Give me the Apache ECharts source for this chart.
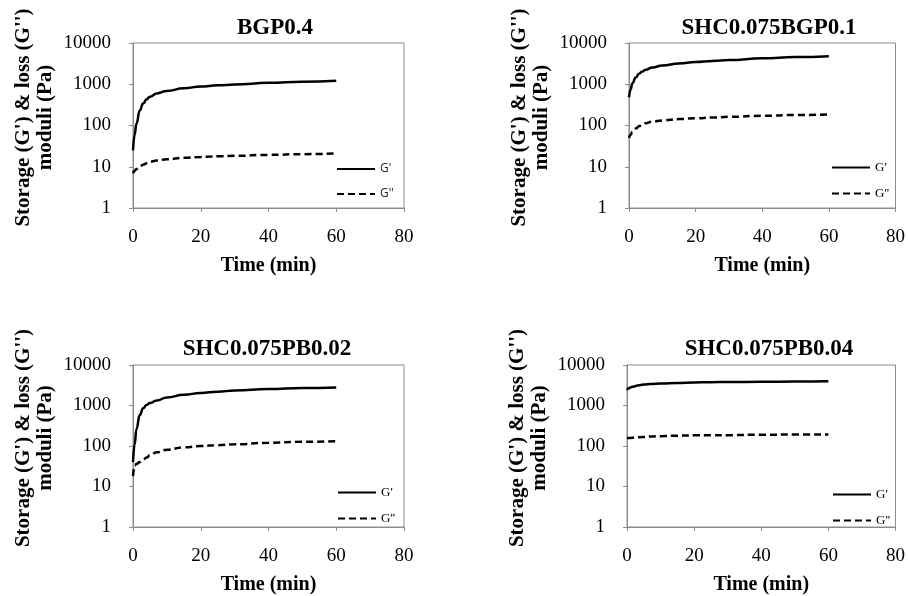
<!DOCTYPE html>
<html>
<head>
<meta charset="utf-8">
<script src="https://cdn.jsdelivr.net/npm/echarts@6/dist/echarts.min.js"></script>
<style>
  html, body { margin: 0; padding: 0; background: #fff; }
  #chart { width: 908px; height: 596px; }
</style>
</head>
<body>
<div id="chart"></div>
<script>
// time points (min), shared by all four tests
const times = [0, 0.5, 1, 2, 3, 4, 5, 7, 10, 15, 20, 25, 30, 40, 50, 60];

// BGP0.4
const bgpStorage = [25, 60, 110, 230, 340, 430, 500, 600, 690, 800, 880, 940, 990, 1080, 1150, 1210];
const bgpLoss = [6.9, 8, 8.8, 10, 11.2, 12.2, 13.2, 14.2, 15.2, 16.5, 17.3, 17.9, 18.4, 19.4, 20.2, 21];

// SHC0.075BGP0.1
const shcBgpStorage = [480, 750, 1050, 1450, 1800, 2050, 2250, 2550, 2850, 3200, 3450, 3650, 3850, 4250, 4550, 4800];
const shcBgpLoss = [50, 60, 70, 84, 96, 106, 113, 124, 133, 143, 150, 156, 162, 172, 180, 185];

// SHC0.075PB0.02
const pb02Storage = [40, 110, 260, 580, 860, 1030, 1150, 1330, 1580, 1850, 2030, 2200, 2330, 2550, 2700, 2800];
const pb02Loss = [18, 33, 36, 40, 46, 52, 59, 70, 81, 93, 100, 105, 110, 120, 127, 131];

// SHC0.075PB0.04
const pb04Storage = [2400, 2650, 2800, 2950, 3100, 3200, 3280, 3380, 3480, 3600, 3700, 3760, 3800, 3850, 3920, 3970];
const pb04Loss = [155, 157, 158, 160, 163, 165, 167, 171, 175, 180, 183, 184, 185, 190, 192, 192];

const titles = ['BGP0.4', 'SHC0.075BGP0.1', 'SHC0.075PB0.02', 'SHC0.075PB0.04'];
const storageSets = [bgpStorage, shcBgpStorage, pb02Storage, pb04Storage];
const lossSets = [bgpLoss, shcBgpLoss, pb02Loss, pb04Loss];
const yTicks = [1, 10, 100, 1000, 10000];

// panel boxes [left, top, width, height]
const boxes = [
    [133, 43, 271, 165],
    [629, 43, 268, 165],
    [133, 365, 271, 165],
    [627, 365, 271, 165]
];
const titlePos = [[270, 12], [764, 12], [262, 333], [764, 333]];
const legendPos = [[336, 163], [831, 161], [337, 486], [832, 488]];

const serif = 'Liberation Serif';
const axisGray = '#8c8c8c';

const chart = echarts.init(document.getElementById('chart'));

const grids = [], xAxes = [], yAxes = [], series = [], titleList = [], legends = [];

boxes.forEach((b, i) => {
    grids.push({
        left: b[0], top: b[1], width: b[2], height: b[3],
        show: true, borderColor: axisGray, borderWidth: 1, backgroundColor: 'transparent'
    });
    xAxes.push({
        gridIndex: i,
        type: 'value',
        min: 0, max: 80, interval: 20,
        name: 'Time (min)',
        nameLocation: 'middle',
        nameGap: 48,
        nameTextStyle: { fontFamily: serif, fontWeight: 'bold', fontSize: 20, color: '#000' },
        axisLine: { lineStyle: { color: axisGray } },
        axisTick: { show: true, length: 4, lineStyle: { color: axisGray } },
        splitLine: { show: false },
        axisLabel: { fontFamily: serif, fontSize: 19, color: '#000', margin: 20 }
    });
    yAxes.push({
        gridIndex: i,
        type: 'log',
        logBase: 10,
        min: yTicks[0], max: yTicks[yTicks.length - 1],
        name: "Storage (G') & loss (G'')\nmoduli (Pa)",
        nameLocation: 'middle',
        nameGap: 76,
        nameTextStyle: {
            fontFamily: serif, fontWeight: 'bold', fontSize: 21, color: '#000',
            lineHeight: 22, padding: [0, 0, 0, 16]
        },
        axisLine: { show: true, lineStyle: { color: axisGray } },
        axisTick: { show: true, length: 4, lineStyle: { color: axisGray } },
        splitLine: { show: false },
        minorTick: { show: false },
        axisLabel: {
            fontFamily: serif, fontSize: 19, color: '#000', margin: 22,
            formatter: v => String(Math.round(v))
        }
    });
    titleList.push({
        text: titles[i],
        left: titlePos[i][0], top: titlePos[i][1],
        textAlign: 'center',
        textStyle: { fontFamily: serif, fontWeight: 'bold', fontSize: 23, color: '#000' }
    });
    legends.push({
        orient: 'vertical',
        left: legendPos[i][0], top: legendPos[i][1],
        itemWidth: 38, itemHeight: 12, itemGap: 13,
        padding: 0,
        selectedMode: false,
        data: ["G'", "G''"],
        // hide the symbol dot, keep only the line sample
        itemStyle: { color: 'rgba(0,0,0,0)', borderWidth: 0, opacity: 0 },
        textStyle: i === 0
            ? { fontFamily: 'Open Sans', fontSize: 12, color: '#222' }
            : { fontFamily: serif, fontSize: 13, color: '#000' }
    });
    series.push({
        name: "G'",
        type: 'line',
        xAxisIndex: i, yAxisIndex: i,
        data: times.map((t, k) => [t, storageSets[i][k]]),
        symbol: 'none',
        smooth: 0.5,
        smoothMonotone: 'x',
        lineStyle: { color: '#000', width: 2.5 },
        itemStyle: { color: '#000' }
    });
    series.push({
        name: "G''",
        type: 'line',
        xAxisIndex: i, yAxisIndex: i,
        data: times.map((t, k) => [t, lossSets[i][k]]),
        symbol: 'none',
        smooth: 0.5,
        smoothMonotone: 'x',
        lineStyle: { color: '#000', width: 2.5, type: [7, 4] },
        itemStyle: { color: '#000' }
    });
});

chart.setOption({
    animation: false,
    backgroundColor: '#fff',
    title: titleList,
    legend: legends,
    grid: grids,
    xAxis: xAxes,
    yAxis: yAxes,
    series: series
});
</script>
</body>
</html>
